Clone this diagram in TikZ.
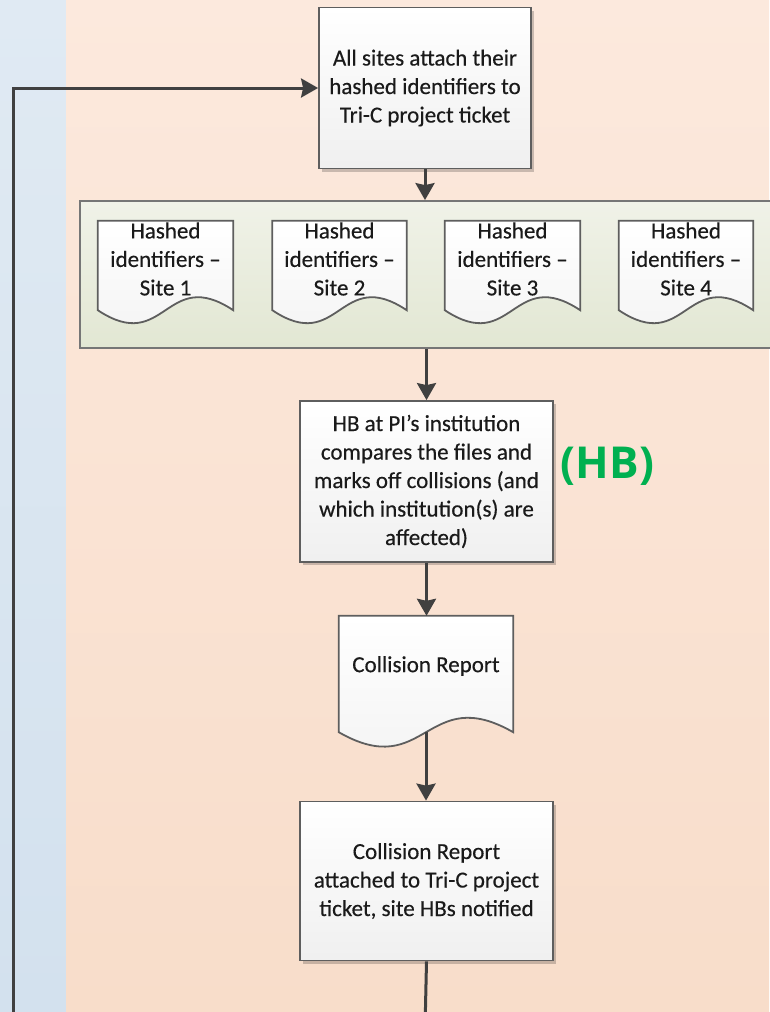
\documentclass[tikz,border=0pt]{standalone}
\usepackage{fontspec}
\setmainfont[FakeBold=0.35]{Carlito}
\newfontfamily\tagfont{Open Sans}
\usetikzlibrary{arrows.meta,calc,shadows}

\definecolor{laneblueT}{HTML}{E0EAF3}
\definecolor{laneblueB}{HTML}{D3E1EE}
\definecolor{laneorT}{HTML}{FCE9DD}
\definecolor{laneorB}{HTML}{F8DDCA}
\definecolor{grpT}{HTML}{F0F2E8}
\definecolor{grpB}{HTML}{E2E7D3}
\definecolor{edge}{HTML}{5E5E5E}
\definecolor{wire}{HTML}{404040}
\definecolor{ink}{HTML}{1A1A1A}
\definecolor{hbgreen}{HTML}{00B050}

\pgfdeclarelayer{lanes}
\pgfdeclarelayer{shapes}
\pgfsetlayers{lanes,shapes,main}

\tikzset{
  boxfont/.style={font=\fontsize{23}{28.5}\selectfont, text=ink, align=center},
  procbox/.style={boxfont, draw=edge, line width=1.8pt, top color=white,
    bottom color=black!6, inner sep=0pt,
    drop shadow={shadow xshift=3pt, shadow yshift=-3pt, opacity=0.2, fill=black}},
  docgeom/.style={boxfont, inner sep=0pt},
  docline/.style={draw=edge, line width=1.8pt, top color=white, bottom color=black!5},
  docshadow/.style={fill=black, opacity=0.15},
  grpbox/.style={draw=edge!85, line width=1.8pt, top color=grpT, bottom color=grpB, inner sep=0pt},
  conn/.style={draw=wire, line width=3pt,
    -{Stealth[length=17pt, width=19pt, inset=2pt]}},
  wireline/.style={draw=wire, line width=3pt},
}

% wavy document outline drawn around node #1;
% #2 = extra drop of the side edges below the node, #3 = wave control offset
\newcommand\docoutline[3]{%
  \begin{scope}[xshift=3pt, yshift=-3pt]
    \path[docshadow] (#1.north west) -- (#1.north east)
      -- ($(#1.south east)+(0,#2)$)
      .. controls ($(#1.south)+(0,#2-#3)$) and ($(#1.south)+(0,#2+#3)$)
      .. ($(#1.south west)+(0,#2)$) -- cycle;
  \end{scope}
  \path[docline] (#1.north west) -- (#1.north east)
    -- ($(#1.south east)+(0,#2)$)
    .. controls ($(#1.south)+(0,#2-#3)$) and ($(#1.south)+(0,#2+#3)$)
    .. ($(#1.south west)+(0,#2)$) -- cycle;}

\begin{document}
\begin{tikzpicture}[x=1pt, y=-1pt]
  \useasboundingbox (0,0) rectangle (769,1012);
  \clip (0,0) rectangle (769,1012);

  % swimlane backgrounds
  \begin{pgfonlayer}{lanes}
    \shade[top color=laneblueT, bottom color=laneblueB] (0,0) rectangle (66,1012);
    \shade[top color=laneorT, bottom color=laneorB] (66,0) rectangle (769,1012);
  \end{pgfonlayer}

  % process steps
  \node[procbox, minimum width=212pt, minimum height=161pt] (b1) at (425,88)
    {All sites attach their\\hashed identifiers to\\Tri-C project ticket};

  \begin{pgfonlayer}{lanes}
    \node[grpbox, minimum width=700pt, minimum height=147pt] (grp) at (430,274.5) {};
  \end{pgfonlayer}

  \node[docgeom, minimum width=135pt, minimum height=76pt] (s1) at (165.5,259) {Hashed\\identifiers –\\Site 1};
  \node[docgeom, minimum width=134pt, minimum height=76pt] (s2) at (339.5,259) {Hashed\\identifiers –\\Site 2};
  \node[docgeom, minimum width=135pt, minimum height=76pt] (s3) at (512.5,259) {Hashed\\identifiers –\\Site 3};
  \node[docgeom, minimum width=134pt, minimum height=76pt] (s4) at (686,259) {Hashed\\identifiers –\\Site 4};

  \node[procbox, minimum width=253pt, minimum height=161pt] (hb) at (426.5,481.5)
    {HB at PI’s institution\\compares the files and\\marks off collisions (and\\which institution(s) are\\affected)};
  \node[font=\tagfont\bfseries\fontsize{44}{44}\selectfont, text=hbgreen, inner sep=0pt] (tag) at (607.5,466) {(HB)};

  \node[docgeom, minimum width=174pt, minimum height=100pt] (cr) at (426,666) {Collision Report};

  \node[procbox, minimum width=253pt, minimum height=159pt] (b4) at (426.5,881)
    {Collision Report\\attached to Tri-C project\\ticket, site HBs notified};

  % document outlines
  \begin{pgfonlayer}{shapes}
    \docoutline{s1}{13}{45}
    \docoutline{s2}{13}{45}
    \docoutline{s3}{13}{45}
    \docoutline{s4}{13}{45}
    \docoutline{cr}{16}{50}
  \end{pgfonlayer}

  % connectors
  \coordinate (crw) at ($(cr.south)+(0,16)$);
  \coordinate (exitA) at (425,1030);
  \coordinate (exitB) at (13,1030);

  \draw[conn] (b1.south) -- (b1.south |- grp.north);
  \draw[conn] (hb.north |- grp.south) -- (hb.north);
  \draw[conn] (hb.south) -- (hb.south |- cr.north);
  \draw[conn] (crw) -- (crw |- b4.north);
  \draw[wireline] (b4.south) -- (exitA);
  \draw[conn] (exitB) |- (b1.west);
\end{tikzpicture}
\end{document}
